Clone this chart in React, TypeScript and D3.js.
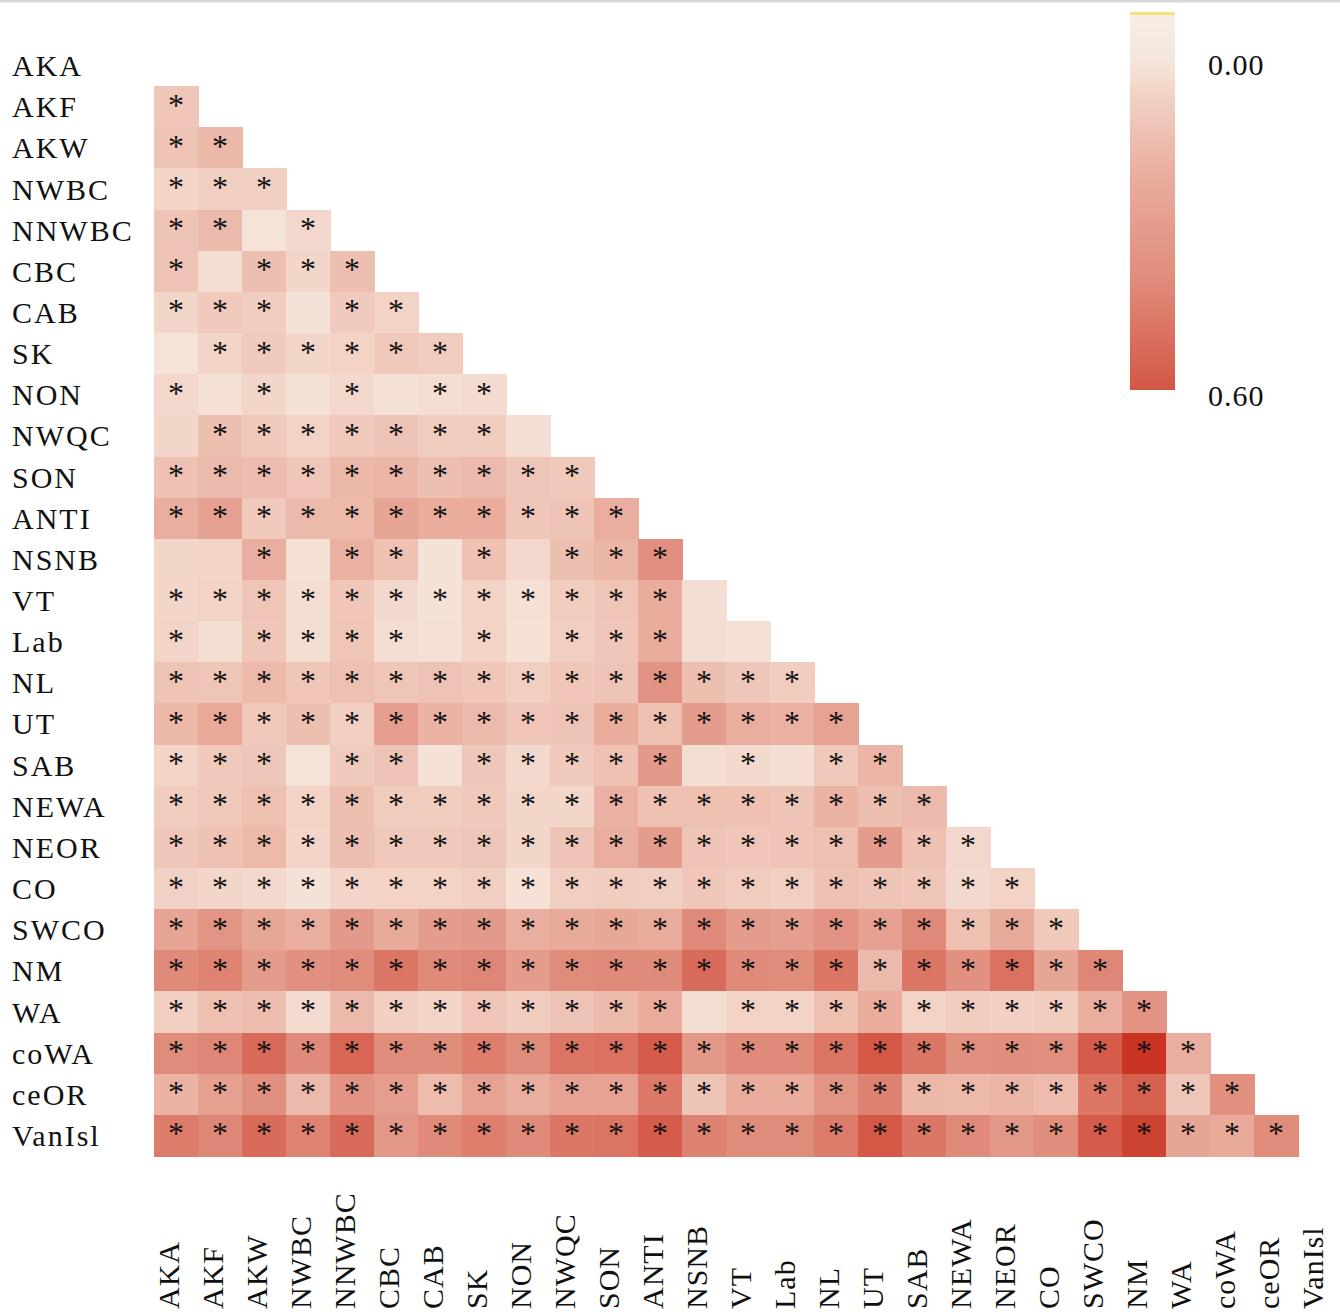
import React from "react";
import * as d3 from "d3";

// populations, in matrix order
const pops = ["AKA", "AKF", "AKW", "NWBC", "NNWBC", "CBC", "CAB", "SK", "NON", "NWQC", "SON", "ANTI", "NSNB", "VT", "Lab", "NL", "UT", "SAB", "NEWA", "NEOR", "CO", "SWCO", "NM", "WA", "coWA", "ceOR", "VanIsl"];

// pairwise Fst, lower triangle: row i holds columns 0..i-1
const fst = [
  [],
  [0.10],
  [0.11, 0.16],
  [0.05, 0.065, 0.065],
  [0.11, 0.15, 0.005, 0.04],
  [0.11, 0.025, 0.13, 0.045, 0.13],
  [0.045, 0.085, 0.075, 0.01, 0.085, 0.055],
  [0.005, 0.05, 0.085, 0.045, 0.055, 0.09, 0.08],
  [0.04, 0.015, 0.045, 0.008, 0.035, 0.015, 0.025, 0.03],
  [0.045, 0.13, 0.09, 0.055, 0.09, 0.11, 0.075, 0.08, 0.02],
  [0.12, 0.15, 0.14, 0.10, 0.16, 0.165, 0.13, 0.15, 0.095, 0.09],
  [0.2, 0.27, 0.085, 0.15, 0.155, 0.25, 0.21, 0.21, 0.10, 0.11, 0.2],
  [0.045, 0.05, 0.2, 0.015, 0.19, 0.12, 0.01, 0.12, 0.04, 0.13, 0.17, 0.37],
  [0.045, 0.055, 0.105, 0.02, 0.10, 0.035, 0.01, 0.055, 0.015, 0.075, 0.105, 0.21, 0.02],
  [0.05, 0.025, 0.10, 0.025, 0.105, 0.02, 0.015, 0.055, 0.012, 0.07, 0.10, 0.21, 0.02, 0.015],
  [0.11, 0.105, 0.155, 0.10, 0.125, 0.105, 0.115, 0.10, 0.065, 0.10, 0.11, 0.35, 0.13, 0.095, 0.075],
  [0.16, 0.23, 0.09, 0.13, 0.065, 0.29, 0.18, 0.15, 0.105, 0.11, 0.21, 0.125, 0.30, 0.2, 0.19, 0.26],
  [0.05, 0.09, 0.095, 0.005, 0.085, 0.11, 0.012, 0.095, 0.035, 0.085, 0.12, 0.31, 0.02, 0.035, 0.025, 0.09, 0.17],
  [0.075, 0.09, 0.125, 0.055, 0.13, 0.08, 0.075, 0.09, 0.045, 0.045, 0.19, 0.12, 0.125, 0.12, 0.11, 0.18, 0.13, 0.15],
  [0.095, 0.12, 0.155, 0.05, 0.13, 0.09, 0.09, 0.095, 0.045, 0.11, 0.2, 0.30, 0.11, 0.10, 0.11, 0.125, 0.30, 0.12, 0.04],
  [0.06, 0.045, 0.035, 0.01, 0.05, 0.055, 0.055, 0.07, 0.012, 0.07, 0.075, 0.07, 0.10, 0.08, 0.07, 0.12, 0.11, 0.10, 0.035, 0.055],
  [0.25, 0.34, 0.24, 0.2, 0.31, 0.22, 0.30, 0.31, 0.2, 0.22, 0.235, 0.215, 0.40, 0.30, 0.285, 0.35, 0.27, 0.40, 0.125, 0.22, 0.09],
  [0.40, 0.42, 0.30, 0.36, 0.39, 0.47, 0.40, 0.41, 0.30, 0.39, 0.40, 0.40, 0.51, 0.40, 0.39, 0.47, 0.15, 0.47, 0.36, 0.49, 0.25, 0.41],
  [0.065, 0.125, 0.135, 0.03, 0.15, 0.065, 0.05, 0.105, 0.075, 0.11, 0.15, 0.21, 0.025, 0.055, 0.055, 0.125, 0.21, 0.055, 0.075, 0.065, 0.075, 0.2, 0.35],
  [0.39, 0.41, 0.52, 0.40, 0.53, 0.39, 0.39, 0.44, 0.39, 0.48, 0.49, 0.57, 0.33, 0.40, 0.40, 0.48, 0.58, 0.47, 0.37, 0.38, 0.37, 0.57, 0.68, 0.2],
  [0.18, 0.28, 0.37, 0.15, 0.35, 0.29, 0.14, 0.26, 0.2, 0.26, 0.26, 0.46, 0.11, 0.21, 0.21, 0.34, 0.43, 0.16, 0.155, 0.17, 0.14, 0.47, 0.55, 0.095, 0.36],
  [0.45, 0.41, 0.51, 0.42, 0.51, 0.33, 0.40, 0.44, 0.40, 0.47, 0.48, 0.57, 0.43, 0.39, 0.39, 0.45, 0.58, 0.47, 0.40, 0.33, 0.38, 0.57, 0.64, 0.25, 0.22, 0.39],
];

// pairs without a significance star
const nonSig = [
  ["NNWBC", "AKW"], ["CBC", "AKF"], ["CAB", "NWBC"], ["SK", "AKA"],
  ["NON", "AKF"], ["NON", "NWBC"], ["NON", "CBC"],
  ["NWQC", "AKA"], ["NWQC", "NON"],
  ["NSNB", "AKA"], ["NSNB", "AKF"], ["NSNB", "NWBC"], ["NSNB", "CAB"], ["NSNB", "NON"],
  ["VT", "NSNB"],
  ["Lab", "AKF"], ["Lab", "CAB"], ["Lab", "NON"], ["Lab", "NSNB"], ["Lab", "VT"],
  ["SAB", "NWBC"], ["SAB", "CAB"], ["SAB", "NSNB"], ["SAB", "Lab"],
  ["WA", "NSNB"],
];

const legendTicks = [0, 0.6];

const FONT = "'Palatino Linotype', 'Book Antiqua', Palatino, 'Liberation Serif', serif";

export default function App() {
  const width = 1340;
  const height = 1312;

  const x = d3.scaleBand().domain(pops).range([154, 154 + pops.length * 44]);
  const y = d3.scaleBand().domain(pops).range([45, 45 + pops.length * 41.15]);

  const color = d3.scaleLinear<string>()
    .domain([-0.1, 0, 0.05, 0.1, 0.2, 0.3, 0.4, 0.5, 0.57, 0.68])
    .range(["#f8eee8", "#f6e5da", "#f2d4c8", "#efc6b8", "#e9ae9f", "#e49c8c", "#e08a79", "#da6e5d", "#d55c4a", "#c93522"])
    .interpolate(d3.interpolateRgb);

  const barY = d3.scaleLinear().domain([-0.09, 0.59]).range([15, 390]);
  const stops = d3.range(0, 1.0001, 0.05).map(t => {
    const v = barY.domain()[0] + t * (barY.domain()[1] - barY.domain()[0]);
    return { offset: t, color: color(v) };
  });

  const skip = new Set(nonSig.map(p => p.join("|")));
  const cells = fst.flatMap((row, i) =>
    row.map((v, j) => ({ r: pops[i], c: pops[j], v, sig: !skip.has(pops[i] + "|" + pops[j]) }))
  );

  return (
    <svg width={width} height={height} style={{ position: "absolute", left: 0, top: 0 }} fontFamily={FONT}>
      <rect x={0} y={0} width={width} height={height} fill="white" />
      <rect x={0} y={0} width={width} height={2.5} fill="#d9d9d9" />

      <g shapeRendering="crispEdges">
        {cells.map(d => (
          <rect key={d.r + d.c} x={x(d.c)} y={y(d.r)} width={x.bandwidth() + 0.6} height={y.bandwidth() + 0.6} fill={color(d.v)} />
        ))}
      </g>
      {cells.filter(d => d.sig).map(d => (
        <text key={"s" + d.r + d.c} x={x(d.c)! + x.bandwidth() / 2} y={y(d.r)! + y.bandwidth() / 2 + 9} textAnchor="middle" fontSize={32} fill="#111">*</text>
      ))}

      {pops.map(p => (
        <text key={"r" + p} x={12} y={y(p)! + y.bandwidth() / 2} dominantBaseline="central" fontSize={30} letterSpacing={2} fill="#111">{p}</text>
      ))}
      {pops.map(p => (
        <text key={"c" + p} transform={`translate(${x(p)! + x.bandwidth() / 2 + 3},1309) rotate(-90)`} fontSize={30} letterSpacing={1} fill="#111">{p}</text>
      ))}

      <defs>
        <linearGradient id="bar" x1="0" y1="0" x2="0" y2="1">
          {stops.map(s => <stop key={s.offset} offset={s.offset} stopColor={s.color} />)}
        </linearGradient>
      </defs>
      <rect x={1130} y={barY.range()[0]} width={45} height={barY.range()[1] - barY.range()[0]} fill="url(#bar)" />
      <rect x={1130} y={barY.range()[0] - 3} width={45} height={3} fill="#f5e37c" />
      {legendTicks.map(t => (
        <text key={"t" + t} x={1208} y={barY(t)} dominantBaseline="central" fontSize={30} letterSpacing={1} fill="#111">{t.toFixed(2)}</text>
      ))}
    </svg>
  );
}
